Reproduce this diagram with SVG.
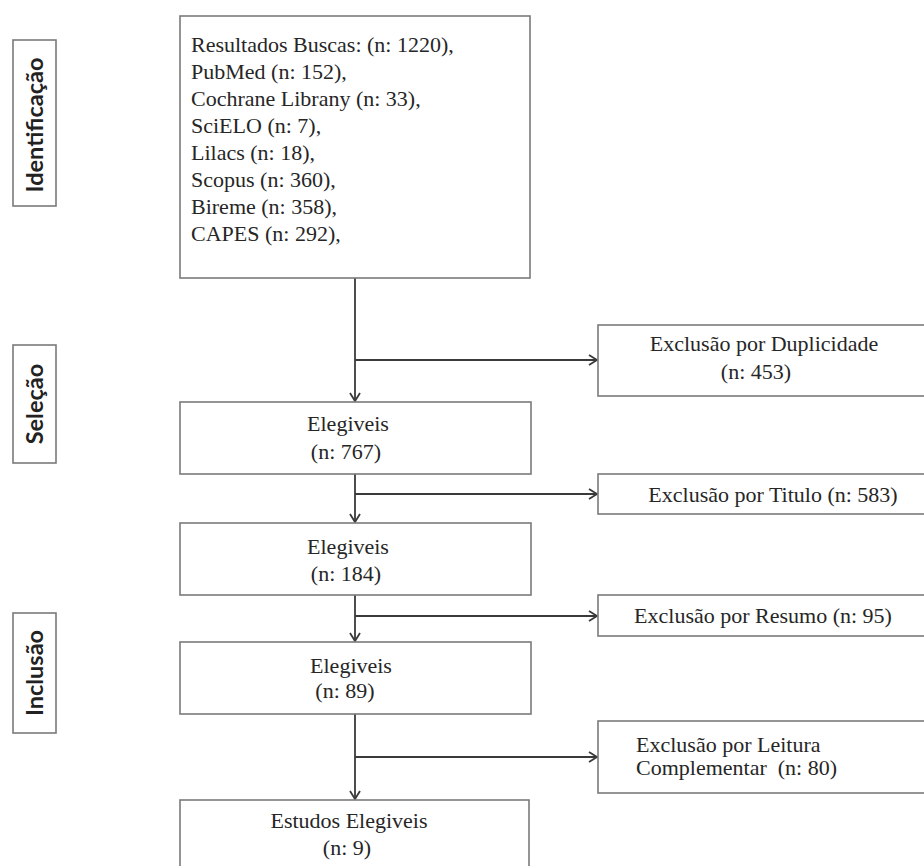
<svg xmlns="http://www.w3.org/2000/svg" width="924" height="866" viewBox="0 0 924 866">
<style>
.box{fill:#fff;stroke:#7a7a7a;stroke-width:1.6}
.t{font-family:'Liberation Serif','Times New Roman',serif;font-size:22px;fill:#262626}
.c{text-anchor:middle}
.lab{font-family:Lato,'Open Sans','Liberation Sans',sans-serif;font-weight:bold;font-size:23.5px;fill:#222;text-anchor:middle}
.ln{fill:none;stroke:#3a3a3a;stroke-width:1.8}
</style>
<defs>
<marker id="ah" markerUnits="userSpaceOnUse" markerWidth="12" markerHeight="14" refX="9" refY="6" orient="auto">
<path d="M1,1 L9,6 L1,11" fill="none" stroke="#3a3a3a" stroke-width="1.8"/>
</marker>
</defs>
<rect width="924" height="866" fill="#fff"/>

<g id="stage-identificacao">
<rect class="box" x="13" y="40" width="43" height="166"/>
<text class="lab" transform="translate(43,125) rotate(-90)">Identificação</text>
</g>
<g id="stage-selecao">
<rect class="box" x="13" y="345" width="43" height="118"/>
<text class="lab" transform="translate(43,404) rotate(-90)">Seleção</text>
</g>
<g id="stage-inclusao">
<rect class="box" x="13" y="613" width="43" height="120"/>
<text class="lab" transform="translate(43,673) rotate(-90)">Inclusão</text>
</g>

<g id="connectors">
<line class="ln" x1="355" y1="278" x2="355" y2="401" marker-end="url(#ah)"/>
<line class="ln" x1="355" y1="360" x2="597" y2="360" marker-end="url(#ah)"/>
<line class="ln" x1="355" y1="474" x2="355" y2="522" marker-end="url(#ah)"/>
<line class="ln" x1="355" y1="494" x2="597" y2="494" marker-end="url(#ah)"/>
<line class="ln" x1="355" y1="595" x2="355" y2="641" marker-end="url(#ah)"/>
<line class="ln" x1="355" y1="616" x2="597" y2="616" marker-end="url(#ah)"/>
<line class="ln" x1="355" y1="714" x2="355" y2="799" marker-end="url(#ah)"/>
<line class="ln" x1="355" y1="757" x2="597" y2="757" marker-end="url(#ah)"/>
</g>

<g id="busca">
<rect class="box" x="180" y="16" width="350" height="262"/>
<text class="t" x="191" y="52">Resultados Buscas: (n: 1220),</text>
<text class="t" x="191" y="79">PubMed (n: 152),</text>
<text class="t" x="191" y="106">Cochrane Librany (n: 33),</text>
<text class="t" x="191" y="133">SciELO (n: 7),</text>
<text class="t" x="191" y="160">Lilacs (n: 18),</text>
<text class="t" x="191" y="187">Scopus (n: 360),</text>
<text class="t" x="191" y="214">Bireme (n: 358),</text>
<text class="t" x="191" y="241">CAPES (n: 292),</text>
</g>

<g id="elegiveis-767">
<rect class="box" x="180" y="402" width="351" height="72"/>
<text class="t c" x="348" y="431">Elegiveis</text>
<text class="t c" x="346" y="459">(n: 767)</text>
</g>
<g id="elegiveis-184">
<rect class="box" x="180" y="523" width="351" height="72"/>
<text class="t c" x="348" y="554">Elegiveis</text>
<text class="t c" x="346" y="581">(n: 184)</text>
</g>
<g id="elegiveis-89">
<rect class="box" x="180" y="642" width="351" height="72"/>
<text class="t c" x="351" y="673">Elegiveis</text>
<text class="t c" x="345" y="698">(n: 89)</text>
</g>
<g id="estudos-elegiveis">
<rect class="box" x="180" y="800" width="349" height="80"/>
<text class="t c" x="349" y="828">Estudos Elegiveis</text>
<text class="t c" x="347" y="855">(n: 9)</text>
</g>

<g id="excl-duplicidade">
<rect class="box" x="598" y="325" width="340" height="71"/>
<text class="t c" x="764" y="351">Exclusão por Duplicidade</text>
<text class="t c" x="756" y="379">(n: 453)</text>
</g>
<g id="excl-titulo">
<rect class="box" x="598" y="474" width="340" height="40"/>
<text class="t c" x="773" y="502">Exclusão por Titulo (n: 583)</text>
</g>
<g id="excl-resumo">
<rect class="box" x="598" y="595" width="340" height="41"/>
<text class="t c" x="763" y="623">Exclusão por Resumo (n: 95)</text>
</g>
<g id="excl-leitura">
<rect class="box" x="598" y="721" width="340" height="72"/>
<text class="t" x="636" y="752">Exclusão por Leitura</text>
<text class="t" x="636" y="775">Complementar&#160; (n: 80)</text>
</g>
</svg>
